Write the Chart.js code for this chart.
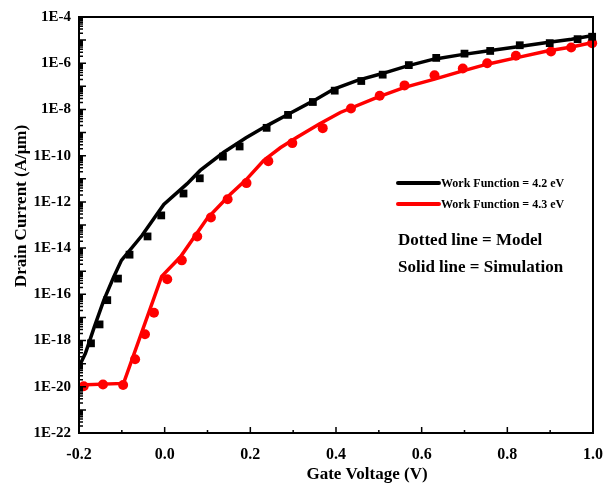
<!DOCTYPE html>
<html>
<head>
<meta charset="utf-8">
<script src="https://cdn.jsdelivr.net/npm/chart.js@4.4.0/dist/chart.umd.min.js"></script>
<style>
html, body { margin: 0; padding: 0; background: #fff; }
</style>
</head>
<body>
<canvas id="ivChart" width="615" height="485"></canvas>
<script>
// model points (markers)
var vModel42 = [-0.172, -0.152, -0.134, -0.109, -0.082, -0.040, -0.008, 0.044, 0.082, 0.136, 0.175, 0.238, 0.288, 0.346, 0.397, 0.459, 0.509, 0.570, 0.634, 0.700, 0.760, 0.829, 0.899, 0.964, 0.998];
var iModel42 = [7.6e-19, 5.0e-18, 5.6e-17, 4.8e-16, 5.2e-15, 3.2e-14, 2.6e-13, 2.3e-12, 1.05e-11, 9.1e-11, 2.5e-10, 1.6e-9, 5.8e-9, 2.1e-8, 6.5e-8, 1.7e-7, 3.2e-7, 8.3e-7, 1.7e-6, 2.6e-6, 3.4e-6, 6.0e-6, 7.4e-6, 1.1e-5, 1.4e-5];

var vModel43 = [-0.189, -0.144, -0.097, -0.069, -0.046, -0.025, 0.006, 0.040, 0.076, 0.108, 0.147, 0.191, 0.242, 0.298, 0.369, 0.435, 0.502, 0.560, 0.630, 0.696, 0.753, 0.820, 0.902, 0.949, 0.998];
var iModel43 = [1.05e-20, 1.26e-20, 1.2e-20, 1.55e-19, 1.86e-18, 1.6e-17, 4.5e-16, 2.95e-15, 3.2e-14, 2.1e-13, 1.3e-12, 6.5e-12, 5.8e-11, 3.5e-10, 1.55e-9, 1.1e-8, 3.9e-8, 1.1e-7, 3.0e-7, 5.9e-7, 1.0e-6, 2.1e-6, 3.2e-6, 4.8e-6, 7.4e-6];

// simulation curves (solid lines)
var vSim42 = [-0.200, -0.185, -0.164, -0.142, -0.119, -0.101, -0.053, -0.002, 0.052, 0.083, 0.138, 0.190, 0.239, 0.295, 0.348, 0.395, 0.450, 0.504, 0.565, 0.628, 0.690, 0.753, 0.820, 0.893, 0.950, 1.000];
var iSim42 = [7.4e-20, 2.8e-19, 4.0e-18, 5.6e-17, 5.6e-16, 2.95e-15, 3.5e-14, 7.8e-13, 6.0e-12, 2.3e-11, 1.4e-10, 6.0e-10, 2.0e-9, 7.2e-9, 2.4e-8, 7.6e-8, 1.8e-7, 3.4e-7, 7.5e-7, 1.5e-6, 2.3e-6, 3.4e-6, 5.0e-6, 7.8e-6, 1.1e-5, 1.6e-5];

var vSim43 = [-0.200, -0.096, -0.007, 0.037, 0.099, 0.154, 0.190, 0.231, 0.270, 0.309, 0.360, 0.410, 0.496, 0.560, 0.628, 0.690, 0.753, 0.820, 0.893, 0.950, 1.000];
var iSim43 = [1.2e-20, 1.4e-20, 6.0e-16, 4.2e-15, 1.9e-13, 2.2e-12, 9.0e-12, 6.2e-11, 2.2e-10, 6.2e-10, 2.3e-9, 7.4e-9, 3.3e-8, 9.0e-8, 2.0e-7, 4.3e-7, 9.1e-7, 1.7e-6, 3.4e-6, 5.0e-6, 7.9e-6];

var yTicks = [1e-22, 1e-20, 1e-18, 1e-16, 1e-14, 1e-12, 1e-10, 1e-8, 1e-6, 1e-4];
var legendLabels = ['Work Function = 4.2 eV', 'Work Function = 4.3 eV'];
var noteLines = ['Dotted line = Model', 'Solid line = Simulation'];

function pairs(xs, ys) {
    return xs.map(function(v, i) { return {x: v, y: ys[i]}; });
}

var serif = "'Liberation Serif', 'Times New Roman', serif";

var decor = {
    id: 'decor',
    afterDatasetsDraw: function(chart) {
        var ctx = chart.ctx, a = chart.chartArea;
        var xs = chart.scales.x, ys = chart.scales.y;
        ctx.save();
        ctx.strokeStyle = '#000';
        ctx.lineWidth = 1.5;
        ctx.beginPath();
        // inward log ticks on left axis
        for (var n = -22; n <= -4; n++) {
            for (var k = 1; k <= 9; k++) {
                var v = k * Math.pow(10, n);
                if (v > 1.0001e-4) break;
                var py = ys.getPixelForValue(v);
                var len = k === 1 ? 7 : 4;
                ctx.moveTo(a.left, py);
                ctx.lineTo(a.left + len, py);
            }
        }
        // inward ticks on bottom axis
        for (var i = 0; i <= 12; i++) {
            var px = xs.getPixelForValue(-0.2 + i * 0.1);
            var l = i % 2 === 0 ? 6 : 3;
            ctx.moveTo(px, a.bottom);
            ctx.lineTo(px, a.bottom - l);
        }
        ctx.stroke();
        ctx.lineWidth = 2;
        ctx.strokeRect(a.left, a.top, a.right - a.left, a.bottom - a.top);
        ctx.restore();
    },
    afterDraw: function(chart) {
        var ctx = chart.ctx;
        var sims = [chart.data.datasets[2], chart.data.datasets[3]];
        ctx.save();
        ctx.fillStyle = '#000';
        ctx.textBaseline = 'middle';
        // legend
        var ly = [183, 204];
        ctx.font = 'bold 12px ' + serif;
        for (var j = 0; j < 2; j++) {
            ctx.strokeStyle = sims[j].borderColor;
            ctx.lineWidth = 4;
            ctx.lineCap = 'round';
            ctx.beginPath();
            ctx.moveTo(398, ly[j]);
            ctx.lineTo(439, ly[j]);
            ctx.stroke();
            ctx.textAlign = 'left';
            ctx.fillText(legendLabels[j], 441, ly[j] + 1);
        }
        ctx.font = 'bold 17px ' + serif;
        ctx.fillText(noteLines[0], 398, 241);
        ctx.fillText(noteLines[1], 398, 268);
        // axis titles
        ctx.textAlign = 'center';
        ctx.fillText('Gate Voltage (V)', 367, 475);
        ctx.translate(22, 206);
        ctx.rotate(-Math.PI / 2);
        ctx.fillText('Drain Current (A/\u03bcm)', 0, 0);
        ctx.restore();
    }
};

new Chart(document.getElementById('ivChart'), {
    type: 'line',
    data: {
        datasets: [
            {
                label: 'Model, 4.2 eV',
                data: pairs(vModel42, iModel42),
                showLine: false,
                pointStyle: 'rect',
                pointRadius: 5.5,
                pointBorderWidth: 0,
                backgroundColor: '#000',
                borderColor: '#000',
                clip: false
            },
            {
                label: 'Model, 4.3 eV',
                data: pairs(vModel43, iModel43),
                showLine: false,
                pointStyle: 'circle',
                pointRadius: 5,
                pointBorderWidth: 0,
                backgroundColor: '#ff0000',
                borderColor: '#ff0000',
                clip: false
            },
            {
                label: legendLabels[0],
                data: pairs(vSim42, iSim42),
                borderColor: '#000',
                borderWidth: 3.5,
                pointRadius: 0,
                tension: 0,
                fill: false
            },
            {
                label: legendLabels[1],
                data: pairs(vSim43, iSim43),
                borderColor: '#ff0000',
                borderWidth: 3.5,
                pointRadius: 0,
                tension: 0,
                fill: false
            }
        ]
    },
    options: {
        responsive: false,
        animation: false,
        devicePixelRatio: 1,
        layout: { padding: { left: 0, top: 16, right: 22, bottom: 0 } },
        plugins: {
            legend: { display: false },
            tooltip: { enabled: false }
        },
        scales: {
            x: {
                type: 'linear',
                min: -0.2,
                max: 1.0,
                grid: { display: false, drawTicks: false },
                border: { display: false },
                ticks: {
                    stepSize: 0.2,
                    padding: 12,
                    color: '#000',
                    font: { family: serif, size: 16, weight: 'bold' },
                    callback: function(v) {
                        return Math.abs(v) < 1e-9 ? '0.0' : v.toFixed(1);
                    }
                },
                afterFit: function(s) { s.height = 52; }
            },
            y: {
                type: 'logarithmic',
                min: 1e-22,
                max: 1e-4,
                grid: { display: false, drawTicks: false },
                border: { display: false },
                afterBuildTicks: function(s) {
                    s.ticks = yTicks.map(function(v) { return {value: v}; });
                },
                ticks: {
                    padding: 8,
                    color: '#000',
                    font: { family: serif, size: 15, weight: 'bold' },
                    callback: function(v) { return '1E' + Math.round(Math.log10(v)); }
                },
                afterFit: function(s) { s.width = 79; }
            }
        }
    },
    plugins: [decor]
});
</script>
</body>
</html>
